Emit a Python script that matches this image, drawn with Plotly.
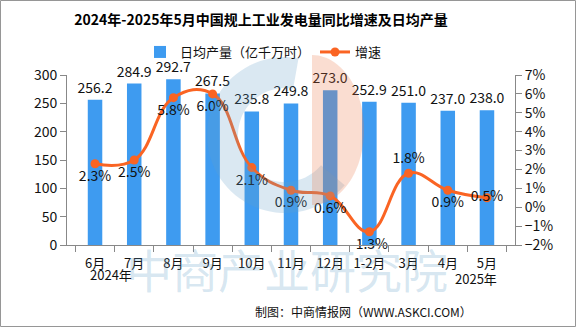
import numpy as np
import plotly.graph_objects as go

# ---- data ----
categories = ["6月", "7月", "8月", "9月", "10月", "11月", "12月", "1-2月", "3月", "4月", "5月"]
daily_output = [256.2, 284.9, 292.7, 267.5, 235.8, 249.8, 273.0, 252.9, 251.0, 237.0, 238.0]
growth = [2.3, 2.5, 5.8, 6.0, 2.1, 0.9, 0.6, -1.3, 1.8, 0.9, 0.5]
growth_pos = ["bottom center"] * 8 + ["top center", "bottom center", "middle center"]

W, H = 576, 327
L, R, T, B = 67, 515, 75, 245
pw, ph = R - L, B - T
FONT = "Noto Sans CJK SC"
BAR = "rgb(62,155,240)"
LINE = "rgb(250,100,35)"

def px(x):
    return (x - L) / pw

def py(y):
    return (B - y) / ph

fig = go.Figure()
fig.add_trace(go.Bar(
    x=categories, y=daily_output, name="日均产量（亿千万时）",
    marker=dict(color=BAR, line=dict(width=0)),
    text=[f"{v:.1f}" for v in daily_output], textposition="outside",
    constraintext="none",
    textfont=dict(size=14, color="#111", family=FONT), cliponaxis=False,
))
fig.add_trace(go.Scatter(
    x=categories, y=growth, name="增速", yaxis="y2", mode="lines+markers+text",
    line=dict(color=LINE, width=3, shape="spline", smoothing=1.2),
    marker=dict(color=LINE, size=9),
    text=[f"{v:.1f}%" for v in growth], textposition=growth_pos,
    textfont=dict(size=14, color="#111", family=FONT), cliponaxis=False,
))

shapes = []
# logo ring (blue)
th = np.linspace(np.radians(80), np.radians(320), 60)
cx, cy, ro, ri = 285, 135, 78, 47
pts = [(cx + ro * np.cos(t), cy - ro * np.sin(t)) for t in th]
pts += [(cx + ri * np.cos(t), cy - ri * np.sin(t)) for t in th[::-1]]
path = "M " + " L ".join(f"{px(a):.4f},{py(b):.4f}" for a, b in pts) + " Z"
shapes.append(dict(type="path", path=path, xref="paper", yref="paper",
                   fillcolor="rgba(100,160,200,0.24)", line=dict(width=0), layer="above"))
# logo half disc (orange)
th2 = np.linspace(np.radians(90), np.radians(-90), 50)
ox, oy, rx, ry = 312, 130, 52, 75
pts2 = [(ox + rx * np.cos(t), oy - ry * np.sin(t)) for t in th2]
path2 = "M " + " L ".join(f"{px(a):.4f},{py(b):.4f}" for a, b in pts2) + " Z"
shapes.append(dict(type="path", path=path2, xref="paper", yref="paper",
                   fillcolor="rgba(235,120,70,0.25)", line=dict(width=0), layer="above"))
# frame
shapes.append(dict(type="rect", xref="paper", yref="paper",
                   x0=px(0.5), x1=px(W - 0.5), y0=py(H - 0.5), y1=py(0.5),
                   line=dict(color="rgb(150,150,150)", width=1), fillcolor="rgba(0,0,0,0)"))

annotations = [
    dict(text="中商产业研究院", x=px(287), y=py(303), xref="paper", yref="paper",
         yanchor="bottom", showarrow=False,
         font=dict(size=46, color="rgba(100,160,200,0.26)", family=FONT)),
    dict(text="2024年", x=px(88), y=py(286), xref="paper", yref="paper", yanchor="bottom",
         showarrow=False, font=dict(size=13, color="#111", family=FONT)),
    dict(text="2025年", x=px(499), y=py(290), xref="paper", yref="paper", yanchor="bottom",
         showarrow=False, font=dict(size=13, color="#111", family=FONT)),
    dict(text="制图：中商情报网（WWW.ASKCI.COM）", x=px(474), y=py(322), xref="paper",
         yref="paper", xanchor="right", yanchor="bottom", showarrow=False,
         font=dict(size=12, color="#111", family=FONT)),
]

fig.update_layout(
    width=W, height=H,
    margin=dict(l=L, r=W - R, t=T, b=H - B),
    paper_bgcolor="white", plot_bgcolor="white",
    font=dict(family=FONT, color="#111"),
    title=dict(text="<b>2024年-2025年5月中国规上工业发电量同比增速及日均产量</b>",
               x=261 / W, xanchor="center", xref="container",
               y=1 - 20 / H, yanchor="middle", yref="container",
               font=dict(size=14, color="#000", family=FONT)),
    legend=dict(orientation="h", x=px(140), xanchor="left", y=py(52), yanchor="middle",
                font=dict(size=13, family=FONT), bgcolor="rgba(0,0,0,0)"),
    bargap=0.63,
    xaxis=dict(showline=True, linecolor="#888", linewidth=1, ticks="outside", ticklen=6,
               tickcolor="#888", tickson="boundaries", showgrid=False, tickangle=0,
               ticklabelstandoff=6,
               tickfont=dict(size=13, family=FONT, color="#111")),
    yaxis=dict(range=[0, 300], dtick=50, showline=True, linecolor="#888", ticks="outside",
               ticklen=6, tickcolor="#888", showgrid=False, zeroline=False,
               tickfont=dict(size=14, family=FONT, color="#111")),
    yaxis2=dict(range=[-2, 7], dtick=1, overlaying="y", side="right", showline=True,
                linecolor="#888", ticks="outside", ticklen=6, tickcolor="#888",
                showgrid=False, zeroline=False, ticksuffix="%",
                tickfont=dict(size=14, family=FONT, color="#111")),
    shapes=shapes, annotations=annotations,
)

fig.write_html("out.html")
